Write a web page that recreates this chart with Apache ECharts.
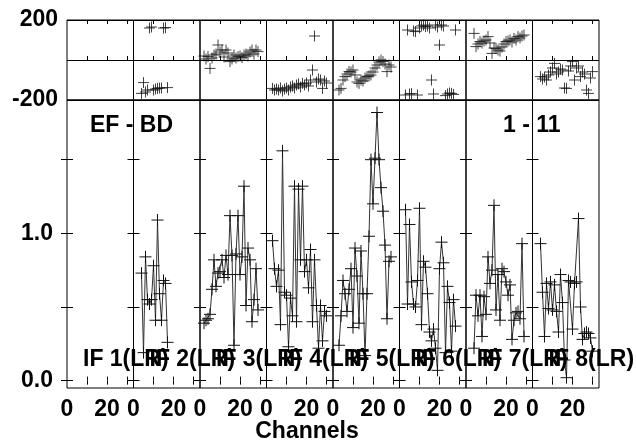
<!DOCTYPE html>
<html><head><meta charset="utf-8">
<script src="https://cdn.jsdelivr.net/npm/echarts@6/dist/echarts.min.js"></script>
<style>html,body{margin:0;padding:0;background:#fff}#c{width:636px;height:442px}</style>
</head><body><div id="c"></div>
<script>
// ---- data (channel numbers 1..31) ----
const channels = [1,2,3,4,5,6,7,8,9,10,11,12,13,14,15,16,17,18,19,20,21,22,23,24,25,26,27,28,29,30,31];
const ifLabels = ['IF 1(LR)','IF 2(LR)','IF 3(LR)','IF 4(LR)','IF 5(LR)','IF 6(LR)','IF 7(LR)','IF 8(LR)'];
const baselineLabel = 'EF - BD';
const timeLabel = '1 - 11';
const xTitle = 'Channels';

const _ = null;
// amplitude per IF
const ampIF1 = [];
const ampIF2 = [_,_,_,0.73,0.19,0.84,0.55,0.52,0.55,0.78,0.41,1.09,0.59,0.41,0.68,0.66,0.26];
const ampIF3 = [_,0.39,0.41,0.42,0.45,0.62,0.82,0.64,0.73,0.74,0.82,0.70,0.85,0.72,1.12,0.85,0.24,0.86,1.12,0.72,0.84,1.32,0.51,0.90,0.82,0.40,0.55,0.76,0.48];
const ampIF4 = [_,_,0.95,0.76,0.64,0.75,0.38,1.56,0.60,0.58,0.23,0.56,0.44,1.32,0.40,1.30,0.82,1.32,0.74,0.82,0.63,0.89,0.40,0.82,0.51,0.22,0.51,0.27,0.47,0.44];
const ampIF5 = [_,_,0.24,0.44,0.68,0.59,0.47,0.62,0.76,0.36,0.90,0.71,0.39,0.88,0.59,0.17,0.59,0.98,1.50,1.20,1.51,1.82,1.50,1.31,1.15,0.92,0.42,0.81,0.84];
const ampIF6 = [_,_,1.16,0.52,1.06,0.67,0.52,0.50,0.68,1.17,0.38,0.81,0.77,0.59,0.33,0.27,0.35,0.22,0.07,0.76,0.94,0.80,0.19,0.64,0.53,0.20,0.55,0.37];
const ampIF7 = [_,_,_,0.22,0.58,0.44,0.58,0.30,0.57,0.45,0.84,0.66,0.75,1.19,0.48,0.72,0.41,0.76,0.74,0.67,0.58,0.65,0.28,0.41,0.46,0.47,0.42,0.93,0.30];
const ampIF8 = [_,_,_,0.93,0.60,0.30,0.66,0.49,0.67,0.48,0.65,0.47,0.33,0.72,0.53,0.14,0.02,0.68,0.67,0.35,0.66,0.67,1.10,0.50,0.28,0.32,0.33,0.32,0.29,0.20];
// phase per IF (degrees)
const phsIF1 = [];
const phsIF2 = [_,_,_,-167,-113,-160,-150,160,165,-150,-145,-142,-140,-140,160,162,-138];
const phsIF3 = [_,20,5,17,-42,10,25,30,75,40,50,15,50,35,-8,5,25,10,17,20,12,25,30,20,40,50,30,50,42];
const phsIF4 = [_,_,-142,-150,-145,-150,-140,-155,-145,-140,-150,-135,-130,-140,-125,-120,-135,-117,-125,-115,-130,-100,-50,120,-110,-95,-100,-142,-105,-115];
const phsIF5 = [_,_,-150,-142,-100,-83,-70,-58,-60,-50,-75,-110,-117,-100,-105,-90,-83,-80,-75,-60,-40,-25,-10,0,-8,-20,-58,-25,-35];
const phsIF6 = [_,_,-175,150,-170,-168,145,142,-175,160,170,175,167,170,160,-100,-170,175,165,75,175,170,-178,-170,-165,-167,-172,150];
const phsIF7 = [_,_,_,133,67,80,92,85,95,100,117,85,33,60,58,50,45,65,80,92,95,100,90,108,100,117,110,120,125];
const phsIF8 = [_,_,_,-83,-95,-85,-100,-75,-60,-40,-17,-70,-60,-45,-50,-140,-142,-55,-30,-8,-100,-40,-30,-83,-60,-70,-150,-167,-90,-58];

const ampSets = [ampIF1,ampIF2,ampIF3,ampIF4,ampIF5,ampIF6,ampIF7,ampIF8];
const phsSets = [phsIF1,phsIF2,phsIF3,phsIF4,phsIF5,phsIF6,phsIF7,phsIF8];

// ticks
const phaseLabelValues = [-200, 200];
const ampLabelValues = [0, 1];
const ampTickValues = [0, 0.5, 1, 1.5];
const chanLabelValues = [0, 20];
const chanTickValues = [10, 20, 30];

// ---- layout ----
const FONT = '"Liberation Sans", Arial, Helvetica, sans-serif';
const L0 = 67, PW = 66.5;
const XMAX = PW / 2;
const CROSS = 'path://M5,0 L5,10 M0,5 L10,5';

const grids = [], xAxes = [], yAxes = [], series = [];
const lbl = {color:'#000', fontFamily:FONT, fontWeight:'bold', fontSize:23};

function pairs(arr){
  const out=[];
  arr.forEach((v,i)=>{ if(v!==null && v!==undefined) out.push([channels[i], v]); });
  return out;
}

for (let k = 0; k < 8; k++) {
  const left = L0 + PW * k;
  // phase grid
  grids.push({left:left, top:20, width:PW, height:80, show:true, borderColor:'#000', borderWidth:1});
  let gi = grids.length - 1;
  const xb = xAxes.length;
  xAxes.push({type:'value', gridIndex:gi, min:0, max:XMAX, position:'bottom',
    axisLine:{show:false}, splitLine:{show:false}, axisLabel:{show:false},
    axisTick:{show:true, inside:true, length:4, customValues:chanTickValues, lineStyle:{color:'#000'}}});
  xAxes.push({type:'value', gridIndex:gi, min:0, max:XMAX, position:'top',
    axisLine:{show:false}, splitLine:{show:false}, axisLabel:{show:false},
    axisTick:{show:true, inside:true, length:4, customValues:chanTickValues, lineStyle:{color:'#000'}}});
  const yl = yAxes.length;
  yAxes.push({type:'value', gridIndex:gi, min:-200, max:200, interval:200, position:'left',
    axisLine:{show:false}, axisTick:{show:false},
    splitLine:{show:true, lineStyle:{color:'#000', width:1}},
    axisLabel:Object.assign({show:k===0, customValues:phaseLabelValues, margin:9}, lbl)});
  series.push({type:'scatter', xAxisIndex:xb, yAxisIndex:yl, data:pairs(phsSets[k]),
    symbol:CROSS, symbolSize:11, silent:true,
    itemStyle:{color:'#000', borderColor:'#111', borderWidth:1}});

  // amplitude grid
  grids.push({left:left, top:100, width:PW, height:288, show:true, borderColor:'#000', borderWidth:1});
  gi = grids.length - 1;
  const xa = xAxes.length;
  xAxes.push({type:'value', gridIndex:gi, min:0, max:XMAX, position:'bottom',
    axisLine:{show:false}, splitLine:{show:false},
    axisLabel:Object.assign({show:true, customValues:chanLabelValues, margin:10}, lbl),
    axisTick:{show:true, inside:true, length:4, customValues:chanTickValues, lineStyle:{color:'#000'}}});
  xAxes.push({type:'value', gridIndex:gi, min:0, max:XMAX, position:'top',
    axisLine:{show:false}, splitLine:{show:false}, axisLabel:{show:false},
    axisTick:{show:true, inside:true, length:4, customValues:chanTickValues, lineStyle:{color:'#000'}}});
  const ya = yAxes.length;
  yAxes.push({type:'value', gridIndex:gi, min:-0.05, max:1.905, position:'left',
    axisLine:{show:false}, splitLine:{show:false},
    axisTick:{show:true, inside:true, length:6, customValues:ampTickValues, lineStyle:{color:'#000'}},
    axisLabel:Object.assign({show:k===0, customValues:ampLabelValues, margin:14,
      formatter:(v)=>Number(v).toFixed(1)}, lbl)});
  yAxes.push({type:'value', gridIndex:gi, min:-0.05, max:1.905, position:'right',
    axisLine:{show:false}, splitLine:{show:false}, axisLabel:{show:false},
    axisTick:{show:true, inside:true, length:6, customValues:ampTickValues, lineStyle:{color:'#000'}}});
  series.push({type:'line', xAxisIndex:xa, yAxisIndex:ya, data:pairs(ampSets[k]),
    symbol:CROSS, symbolSize:12, showSymbol:true, silent:true,
    lineStyle:{color:'#333', width:1},
    itemStyle:{color:'#000', borderColor:'#111', borderWidth:1}});
}

const textFont = 'bold 23px ' + FONT;
const graphics = [
  {type:'text', x:90, y:126, style:{text:baselineLabel, font:textFont, fill:'#000', align:'left', verticalAlign:'middle'}},
  {type:'text', x:503, y:126, style:{text:timeLabel, font:textFont, fill:'#000', align:'left', verticalAlign:'middle'}},
  {type:'text', x:307, y:432, style:{text:xTitle, font:textFont, fill:'#000', align:'center', verticalAlign:'middle'}}
];
ifLabels.forEach((t,k)=>{
  graphics.push({type:'text', x:83 + PW*k, y:360, z:10, style:{text:t, font:textFont, fill:'#000', align:'left', verticalAlign:'middle'}});
});

const chart = echarts.init(document.getElementById('c'), null, {renderer:'canvas'});
chart.setOption({
  animation:false,
  backgroundColor:'#fff',
  grid:grids, xAxis:xAxes, yAxis:yAxes, series:series,
  graphic:graphics
});
</script>
</body></html>
